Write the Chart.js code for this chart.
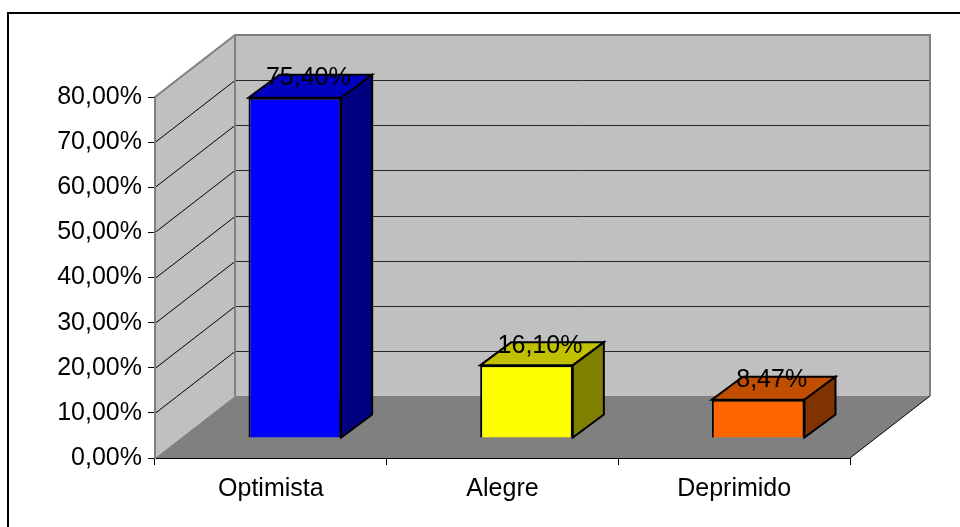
<!DOCTYPE html>
<html>
<head>
<meta charset="utf-8">
<script src="https://cdn.jsdelivr.net/npm/chart.js@4/dist/chart.umd.min.js"></script>
<style>
  html, body { margin: 0; padding: 0; background: #fff; }
  canvas { display: block; }
</style>
</head>
<body>
<canvas id="moodChart" width="960" height="527"></canvas>
<script>
const categories = ['Optimista', 'Alegre', 'Deprimido'];
const percentages = [75.40, 16.10, 8.47];
const axisMax = 80;
const axisStep = 10;

// face colours of each column: front, top, side
const frontColors = ['#0000ff', '#ffff00', '#ff6600'];
const topColors = ['#0000c0', '#c0c000', '#c04d00'];
const sideColors = ['#000080', '#808000', '#803300'];

const FONT = '"Liberation Sans", Arial, sans-serif';
const wallDepth = { x: 80, y: -62 };  // back wall offset from the front plane
const barShift = { x: 24, y: -20 };   // columns stand a bit behind the front plane
const barDepth = { x: 31, y: -23 };

function pct(v) {
  return Number(v).toFixed(2).replace('.', ',') + '%';
}

function poly(ctx, pts) {
  ctx.beginPath();
  ctx.moveTo(pts[0][0], pts[0][1]);
  for (let i = 1; i < pts.length; i++) ctx.lineTo(pts[i][0], pts[i][1]);
  ctx.closePath();
}

const box3d = {
  id: 'box3d',
  beforeDraw(chart) {
    const ctx = chart.ctx;
    const { left, right, top, bottom } = chart.chartArea;
    const yScale = chart.scales.y;
    const dx = wallDepth.x, dy = wallDepth.y;
    ctx.save();
    ctx.fillStyle = '#fff';
    ctx.fillRect(0, 0, chart.width, chart.height);

    // outer frame
    ctx.strokeStyle = '#000';
    ctx.lineWidth = 2;
    ctx.beginPath();
    ctx.moveTo(8, chart.height);
    ctx.lineTo(8, 13);
    ctx.lineTo(chart.width, 13);
    ctx.stroke();

    // walls and floor
    ctx.fillStyle = '#c0c0c0';
    ctx.fillRect(left + dx, top + dy, right - left, bottom - top);
    poly(ctx, [[left, top], [left + dx, top + dy], [left + dx, bottom + dy], [left, bottom]]);
    ctx.fill();
    ctx.fillStyle = '#808080';
    poly(ctx, [[left, bottom], [right, bottom], [right + dx, bottom + dy], [left + dx, bottom + dy]]);
    ctx.fill();

    // gridlines across side wall and back wall
    ctx.lineWidth = 1;
    for (let v = axisStep; v < axisMax; v += axisStep) {
      const py = Math.round(yScale.getPixelForValue(v)) + 0.5;
      ctx.strokeStyle = '#000';
      ctx.beginPath();
      ctx.moveTo(left, py);
      ctx.lineTo(left + dx, py + dy);
      ctx.stroke();
      ctx.strokeStyle = '#262626';
      ctx.beginPath();
      ctx.moveTo(left + dx, py + dy);
      ctx.lineTo(right + dx, py + dy);
      ctx.stroke();
    }

    // wall edges
    ctx.strokeStyle = '#808080';
    ctx.lineWidth = 2;
    ctx.beginPath();
    ctx.moveTo(left, top);
    ctx.lineTo(left + dx, top + dy);
    ctx.lineTo(right + dx, top + dy);
    ctx.lineTo(right + dx, bottom + dy);
    ctx.stroke();
    ctx.beginPath();
    ctx.moveTo(left + dx, top + dy);
    ctx.lineTo(left + dx, bottom + dy);
    ctx.stroke();

    ctx.strokeStyle = '#000';
    ctx.lineWidth = 1;
    ctx.beginPath();
    ctx.moveTo(right, bottom);
    ctx.lineTo(right + dx, bottom + dy);
    ctx.stroke();
    ctx.restore();
  },
  beforeDatasetsDraw(chart) {
    chart.ctx.save();
    chart.ctx.translate(barShift.x, barShift.y);
  },
  afterDatasetsDraw(chart) {
    const ctx = chart.ctx;
    ctx.restore();
    const meta = chart.getDatasetMeta(0);
    const bx = barDepth.x, by = barDepth.y;
    ctx.save();
    ctx.lineWidth = 2;
    ctx.lineJoin = 'miter';
    ctx.strokeStyle = '#000';
    meta.data.forEach((bar, i) => {
      const { x, y, base, width } = bar.getProps(['x', 'y', 'base', 'width'], true);
      const L = x - width / 2 + barShift.x;
      const R = x + width / 2 + barShift.x;
      const T = y + barShift.y;
      const B = base + barShift.y;

      ctx.fillStyle = topColors[i];
      poly(ctx, [[L, T], [R, T], [R + bx, T + by], [L + bx, T + by]]);
      ctx.fill();
      ctx.stroke();

      ctx.fillStyle = sideColors[i];
      poly(ctx, [[R, T], [R + bx, T + by], [R + bx, B + by], [R, B]]);
      ctx.fill();
      ctx.stroke();
    });

    // value labels over the column tops
    ctx.fillStyle = '#000';
    ctx.font = '25px ' + FONT;
    ctx.textAlign = 'center';
    ctx.textBaseline = 'alphabetic';
    meta.data.forEach((bar, i) => {
      const { x, y } = bar.getProps(['x', 'y'], true);
      const cx = x + barShift.x + bx / 2;
      const cy = y + barShift.y + by / 2;
      ctx.fillText(pct(percentages[i]), cx - 2, cy - 1);
    });
    ctx.restore();
  }
};

new Chart(document.getElementById('moodChart'), {
  type: 'bar',
  data: {
    labels: categories,
    datasets: [{
      data: percentages,
      backgroundColor: frontColors,
      borderColor: '#000',
      borderWidth: 2,
      barPercentage: 0.4,
      categoryPercentage: 1
    }]
  },
  options: {
    responsive: false,
    animation: false,
    devicePixelRatio: 1,
    layout: { padding: { top: 97, right: 110, left: 0, bottom: 0 } },
    plugins: {
      legend: { display: false },
      tooltip: { enabled: false }
    },
    scales: {
      x: {
        grid: { drawOnChartArea: false, tickLength: 7, color: '#000', tickColor: '#000' },
        border: { color: '#000', width: 1 },
        ticks: { color: '#000', font: { family: FONT, size: 25 }, padding: 9 },
        afterFit(scale) { scale.height = 69; }
      },
      y: {
        min: 0,
        max: axisMax,
        ticks: {
          stepSize: axisStep,
          color: '#000',
          font: { family: FONT, size: 25 },
          padding: 6,
          callback: v => pct(v)
        },
        grid: { drawOnChartArea: false, tickLength: 7, color: '#000', tickColor: '#000' },
        border: { color: '#808080', width: 2 },
        afterFit(scale) { scale.width = 155; }
      }
    }
  },
  plugins: [box3d]
});
</script>
</body>
</html>
